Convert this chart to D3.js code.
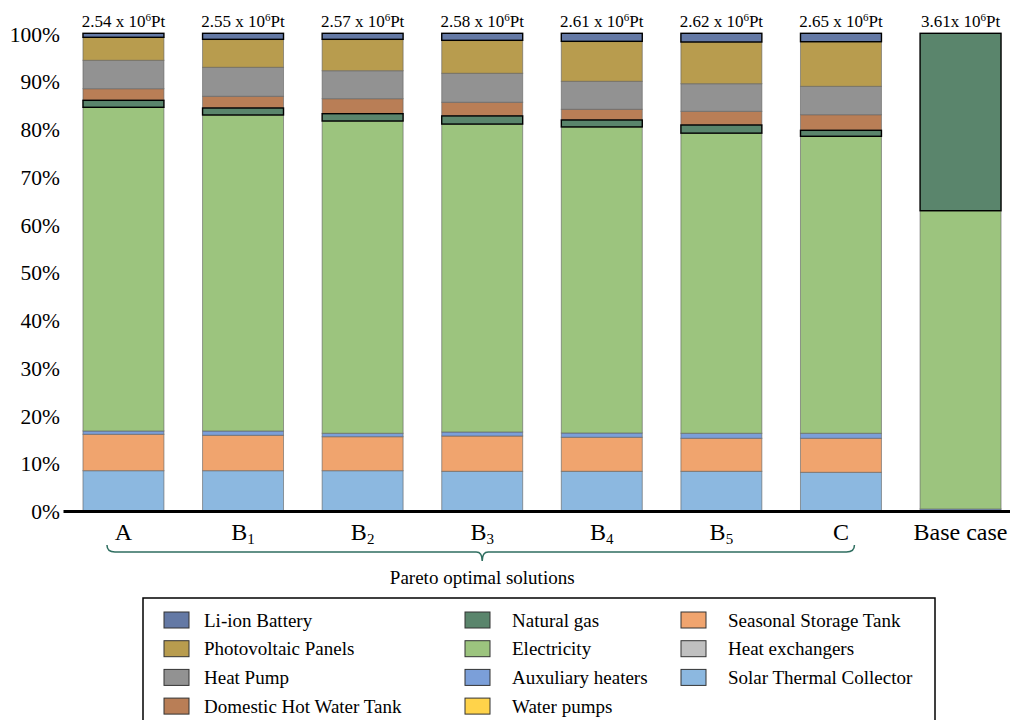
<!DOCTYPE html>
<html>
<head>
<meta charset="utf-8">
<script src="https://cdn.jsdelivr.net/npm/d3@7"></script>
<style>
  body { margin: 0; background: #fff; }
  svg { display: block; font-family: "Liberation Serif", "Times New Roman", serif; }
</style>
</head>
<body>
<svg id="chart" width="1010" height="720"></svg>
<script>
const width = 1010;
const height = 720;
const svg = d3.select('#chart');

// Categories (name + optional subscript) and the impact totals above each bar
const categories = ['A', 'B1', 'B2', 'B3', 'B4', 'B5', 'C', 'Base case'];
const subscripts = ['', '1', '2', '3', '4', '5', '', ''];
const totals = ['2.54 x 10', '2.55 x 10', '2.57 x 10', '2.58 x 10', '2.61 x 10', '2.62 x 10', '2.65 x 10', '3.61x 10'];

// Share of the impact per component (%), bottom to top
const solarThermal   = [8.44, 8.44, 8.44, 8.31, 8.31, 8.31, 8.10, 0];
const heatExchangers = [0, 0, 0, 0, 0, 0, 0, 0];
const seasonalTank   = [7.62, 7.41, 7.11, 7.39, 7.12, 6.91, 7.12, 0];
const waterPumps     = [0, 0, 0, 0, 0, 0, 0, 0];
const auxHeaters     = [0.69, 0.90, 0.72, 0.84, 0.90, 1.05, 1.05, 0.42];
const electricity    = [67.76, 66.15, 65.37, 64.46, 64.07, 62.83, 62.17, 62.44];
const naturalGas     = [1.46, 1.46, 1.53, 1.70, 1.45, 1.70, 1.25, 37.14];
const dhwTank        = [2.43, 2.45, 3.14, 2.86, 2.24, 2.87, 3.27, 0];
const heatPump       = [5.95, 6.07, 5.86, 6.07, 5.86, 5.78, 5.94, 0];
const pvPanels       = [4.81, 5.86, 6.57, 6.90, 8.37, 8.73, 9.34, 0];
const liBattery      = [0.84, 1.26, 1.26, 1.47, 1.68, 1.82, 1.76, 0];

const yTicks = [0, 10, 20, 30, 40, 50, 60, 70, 80, 90, 100];

const series = [
  { key: 'Solar Thermal Collector', values: solarThermal, color: '#8cb8e0' },
  { key: 'Heat exchangers', values: heatExchangers, color: '#c0c0c0' },
  { key: 'Seasonal Storage Tank', values: seasonalTank, color: '#f0a46e' },
  { key: 'Water pumps', values: waterPumps, color: '#ffd34a' },
  { key: 'Auxuliary heaters', values: auxHeaters, color: '#7b9fd9' },
  { key: 'Electricity', values: electricity, color: '#9cc47e' },
  { key: 'Natural gas', values: naturalGas, color: '#5a856c', bold: true },
  { key: 'Domestic Hot Water Tank', values: dhwTank, color: '#b97e56' },
  { key: 'Heat Pump', values: heatPump, color: '#929292' },
  { key: 'Photovoltaic Panels', values: pvPanels, color: '#b89c4e' },
  { key: 'Li-ion Battery', values: liBattery, color: '#6479a5', bold: true }
];
const colorOf = new Map(series.map(s => [s.key, s.color]));

// legend columns, as laid out in the box
const legendColumns = [
  ['Li-ion Battery', 'Photovoltaic Panels', 'Heat Pump', 'Domestic Hot Water Tank'],
  ['Natural gas', 'Electricity', 'Auxuliary heaters', 'Water pumps'],
  ['Seasonal Storage Tank', 'Heat exchangers', 'Solar Thermal Collector']
];

const table = categories.map((c, i) => {
  const row = { category: c };
  series.forEach(s => { row[s.key] = s.values[i]; });
  return row;
});

const stacked = d3.stack().keys(series.map(s => s.key))(table);

// Scales
const x = d3.scaleBand()
  .domain(categories)
  .range([63, 1021])
  .paddingInner(0.323)
  .paddingOuter(0.167);

const y = d3.scaleLinear()
  .domain([0, 100])
  .range([511, 33.3]);

// Bars: plain segments first, outlined ones on top
const layers = svg.append('g');
const order = stacked.filter(l => !series[l.index].bold).concat(stacked.filter(l => series[l.index].bold));

order.forEach(layer => {
  const s = series[layer.index];
  layers.append('g')
    .selectAll('rect')
    .data(layer.filter(d => d[1] - d[0] > 0))
    .enter().append('rect')
    .attr('x', d => x(d.data.category))
    .attr('width', x.bandwidth())
    .attr('y', d => y(d[1]))
    .attr('height', d => y(d[0]) - y(d[1]))
    .attr('fill', s.color)
    .attr('stroke', s.bold ? '#000' : '#5f5f5f')
    .attr('stroke-opacity', s.bold ? 1 : 0.6)
    .attr('stroke-width', s.bold ? 1.4 : 1);
});

// Y axis
const yAxis = svg.append('g')
  .attr('transform', 'translate(60,0)')
  .call(d3.axisLeft(y).tickValues(yTicks).tickSize(0).tickPadding(0).tickFormat(d => d + '%'));
yAxis.select('.domain').remove();
yAxis.selectAll('text')
  .attr('font-family', '"Liberation Serif", serif')
  .attr('font-size', 21.5)
  .attr('fill', '#000')
  .attr('dy', '0.36em');

// X axis
const xAxis = svg.append('g')
  .attr('transform', 'translate(0,511)')
  .call(d3.axisBottom(x).tickSize(0).tickPadding(0).tickFormat(''));
xAxis.select('.domain').attr('stroke', '#000').attr('stroke-width', 3);

const xLabels = svg.append('g')
  .selectAll('text')
  .data(categories)
  .enter().append('text')
  .attr('x', d => x(d) + x.bandwidth() / 2)
  .attr('y', 540)
  .attr('text-anchor', 'middle')
  .attr('font-size', 24)
  .attr('fill', '#000');
xLabels.append('tspan').text(d => d.charAt(0) === 'B' && d.length === 2 ? 'B' : d);
xLabels.append('tspan')
  .attr('font-size', 15)
  .attr('dy', 4)
  .text((d, i) => subscripts[i]);

// Totals above the bars
const totalLabels = svg.append('g')
  .selectAll('text')
  .data(categories)
  .enter().append('text')
  .attr('x', d => x(d) + x.bandwidth() / 2)
  .attr('y', 27)
  .attr('text-anchor', 'middle')
  .attr('font-size', 17)
  .attr('fill', '#000');
totalLabels.append('tspan').text((d, i) => totals[i]);
totalLabels.append('tspan').attr('font-size', 11).attr('dy', -6).text('6');
totalLabels.append('tspan').attr('dy', 6).text('Pt');

// Brace under the Pareto solutions
const braceLeft = x('A') + 24;
const braceRight = x('C') + x.bandwidth() - 27;
const braceMid = x('B3') + x.bandwidth() / 2;
const bTop = 545, bLine = 552, bTip = 561;
svg.append('path')
  .attr('d', `M${braceLeft},${bTop} Q${braceLeft},${bLine} ${braceLeft + 8},${bLine}
    L${braceMid - 6},${bLine} Q${braceMid},${bLine} ${braceMid},${bTip}
    Q${braceMid},${bLine} ${braceMid + 6},${bLine}
    L${braceRight - 8},${bLine} Q${braceRight},${bLine} ${braceRight},${bTop}`)
  .attr('fill', 'none')
  .attr('stroke', '#2f6e60')
  .attr('stroke-width', 1.5);

svg.append('text')
  .attr('x', braceMid)
  .attr('y', 584)
  .attr('text-anchor', 'middle')
  .attr('font-size', 19)
  .attr('fill', '#000')
  .text('Pareto optimal solutions');

// Legend
const legend = svg.append('g');
legend.append('rect')
  .attr('x', 143).attr('y', 598)
  .attr('width', 792).attr('height', 140)
  .attr('fill', '#fff')
  .attr('stroke', '#000')
  .attr('stroke-width', 1.5);

const colX = [164, 465, 681];
legendColumns.forEach((col, ci) => {
  const g = legend.append('g').selectAll('g')
    .data(col)
    .enter().append('g')
    .attr('transform', (d, ri) => `translate(${colX[ci]},${620 + ri * 28.7})`);
  g.append('rect')
    .attr('x', 0).attr('y', -8)
    .attr('width', 25).attr('height', 16)
    .attr('fill', d => colorOf.get(d))
    .attr('stroke', '#333')
    .attr('stroke-width', 1);
  g.append('text')
    .attr('x', ci === 0 ? 40 : 47)
    .attr('dy', '0.35em')
    .attr('font-size', 19)
    .attr('fill', '#000')
    .text(d => d);
});
</script>
</body>
</html>
